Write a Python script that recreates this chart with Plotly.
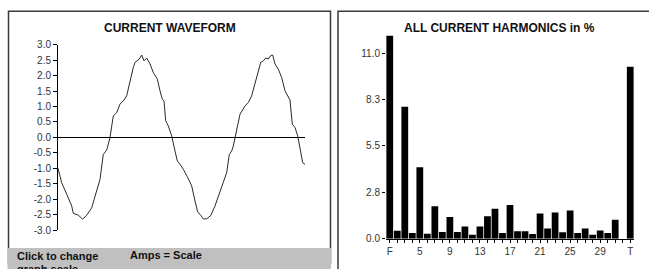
import plotly.graph_objects as go

# ---- data: current waveform (time in ms, current in A) ----
wave_t = [0.0, 0.59, 1.39, 2.19, 2.45, 3.25, 3.95, 4.59, 5.39, 6.19, 6.72, 7.25, 7.79, 8.05,
          8.32, 8.85, 9.39, 9.92, 10.56, 10.99, 11.52, 12.05, 12.32, 12.69, 13.01, 13.39, 13.76,
          14.19, 14.72, 15.25, 15.89, 16.32, 16.69, 16.96, 17.23, 17.65, 18.19, 18.72, 19.09,
          19.52, 20.05, 20.75, 21.39, 21.92, 22.35, 22.72, 23.25, 23.79, 24.43, 25.12, 25.65,
          26.19, 26.99, 27.41, 27.79, 28.05, 28.32, 28.59, 29.12, 29.92, 30.45, 30.99, 31.52,
          32.05, 32.43, 32.85, 33.23, 33.65, 34.03, 34.35, 34.72, 35.25, 35.79, 36.32, 36.75,
          37.12, 37.49, 37.92, 38.35, 38.72, 39.15, 39.52]
wave_a = [-1.00, -1.47, -1.84, -2.22, -2.46, -2.52, -2.65, -2.52, -2.28, -1.74, -1.36, -0.55,
          -0.41, -0.22, 0.00, 0.70, 0.80, 1.08, 1.21, 1.35, 1.83, 2.27, 2.43, 2.48, 2.54, 2.67,
          2.48, 2.57, 2.38, 2.10, 1.89, 1.51, 1.24, 1.18, 0.54, 0.37, 0.05, -0.44, -0.76, -0.87,
          -1.03, -1.30, -1.57, -2.06, -2.42, -2.49, -2.64, -2.64, -2.53, -2.22, -1.90, -1.57,
          -1.14, -0.55, -0.44, -0.28, 0.00, 0.32, 0.75, 1.02, 1.13, 1.35, 1.78, 2.16, 2.43, 2.48,
          2.57, 2.54, 2.65, 2.67, 2.38, 2.21, 1.94, 1.51, 1.35, 1.21, 0.43, 0.32, 0.05, -0.33,
          -0.82, -0.87]
wave_ticks = [3.0, 2.5, 2.0, 1.5, 1.0, 0.5, 0.0, -0.5, -1.0, -1.5, -2.0, -2.5, -3.0]

# ---- data: harmonics in % ----
harm_cats = ["F"] + [str(i) for i in range(2, 33)] + ["T"]
harm_vals = [12.03, 0.47, 7.82, 0.34, 4.23, 0.30, 1.92, 0.40, 1.29, 0.40, 0.73, 0.24, 0.73,
             1.33, 1.78, 0.34, 2.00, 0.44, 0.44, 0.28, 1.50, 0.61, 1.56, 0.38, 1.68, 0.34,
             0.61, 0.24, 0.49, 0.34, 1.13, 0.0, 10.19]
harm_labels = ["F", "5", "9", "13", "17", "21", "25", "29", "T"]
harm_yvals = [0, 2.75, 5.5, 8.25, 11]
harm_ytext = ["0.0", "2.8", "5.5", "8.3", "11.0"]

W, H = 649, 269
# layout helpers: target pixel positions -> paper fractions
YS, YB = 0.9545, 5.2
def px(x): return x / W
def py(y): return 1 - ((y - YB) / YS) / H

FONT = "Liberation Sans, Arial, sans-serif"

fig = go.Figure()
fig.add_trace(go.Scatter(x=wave_t, y=wave_a, mode="lines",
                         line=dict(color="#2a2a2a", width=1), xaxis="x", yaxis="y",
                         hoverinfo="skip"))
fig.add_trace(go.Bar(x=harm_cats, y=harm_vals, marker=dict(color="black", line=dict(width=0)),
                     xaxis="x2", yaxis="y2", hoverinfo="skip"))

fig.update_layout(
    width=W, height=H, margin=dict(l=0, r=0, t=0, b=0),
    paper_bgcolor="white", plot_bgcolor="white", showlegend=False,
    bargap=0.1,
    font=dict(family=FONT, size=10, color="#333"),
    xaxis=dict(domain=[px(58), px(305)], range=[0, 39.52], visible=False, fixedrange=True),
    yaxis=dict(domain=[py(229), py(44)], range=[-3, 3], tickvals=wave_ticks,
               ticktext=[f"{v:.1f}" for v in wave_ticks],
               showline=True, linecolor="black", linewidth=1,
               ticks="outside", ticklen=4, tickcolor="black", showgrid=False,
               zeroline=True, zerolinecolor="black", zerolinewidth=1,
               tickfont=dict(size=10, color="#333"), fixedrange=True),
    xaxis2=dict(domain=[px(386), px(634)], anchor="y2", type="category",
                range=[-0.5, len(harm_cats) - 0.5],
                tickvals=harm_cats,
                ticktext=[c if c in harm_labels else "" for c in harm_cats],
                showline=True, linecolor="black", linewidth=1,
                ticks="outside", ticklen=3, tickcolor="black", showgrid=False,
                tickfont=dict(size=10, color="#333"), fixedrange=True),
    yaxis2=dict(domain=[py(237.7), py(32.1)], anchor="x2", range=[0, 12.2],
                tickvals=harm_yvals, ticktext=harm_ytext,
                showline=False, ticks="outside", ticklen=3, tickcolor="black",
                showgrid=False, zeroline=False,
                tickfont=dict(size=10, color="#333"), fixedrange=True),
)

shapes = [
    # left panel frame
    dict(type="rect", xref="paper", yref="paper", x0=px(8.5), x1=px(330.5), y0=py(262), y1=py(10.5),
         line=dict(color="#3a3a3a", width=1.5), fillcolor="rgba(0,0,0,0)", layer="below"),
    # grey footer
    dict(type="rect", xref="paper", yref="paper", x0=px(7.5), x1=px(331), y0=py(300), y1=py(247),
         line=dict(width=0), fillcolor="#c0c0c0", layer="above"),
    # right panel frame
    dict(type="rect", xref="paper", yref="paper", x0=px(338), x1=px(680), y0=py(310), y1=py(10.5),
         line=dict(color="#3a3a3a", width=1.5), fillcolor="rgba(0,0,0,0)", layer="below"),
]
fig.update_layout(shapes=shapes)

ann = [
    dict(text="<b>CURRENT WAVEFORM</b>", x=px(170), y=py(27), font=dict(size=12, color="#111")),
    dict(text="<b>ALL CURRENT HARMONICS in %</b>", x=px(499), y=py(27), font=dict(size=12, color="#111")),
]
annotations = [dict(a, xref="paper", yref="paper", showarrow=False, xanchor="center", yanchor="middle")
               for a in ann]
annotations += [
    dict(text="<b>Click to change</b>", x=px(15), y=py(255), xref="paper", yref="paper",
         showarrow=False, xanchor="left", yanchor="middle", align="left",
         font=dict(size=11, color="#111")),
    dict(text="<b>graph scale</b>", x=px(15), y=py(268), xref="paper", yref="paper",
         showarrow=False, xanchor="left", yanchor="middle", align="left",
         font=dict(size=11, color="#111")),
    dict(text="<b>Amps = Scale</b>", x=px(128), y=py(253.5), xref="paper", yref="paper",
         showarrow=False, xanchor="left", yanchor="middle", align="left",
         font=dict(size=11, color="#111")),
]
fig.update_layout(annotations=annotations)

fig.write_html("out.html", config={"displayModeBar": False, "staticPlot": True},
               post_script="document.body.style.margin='0px';")
